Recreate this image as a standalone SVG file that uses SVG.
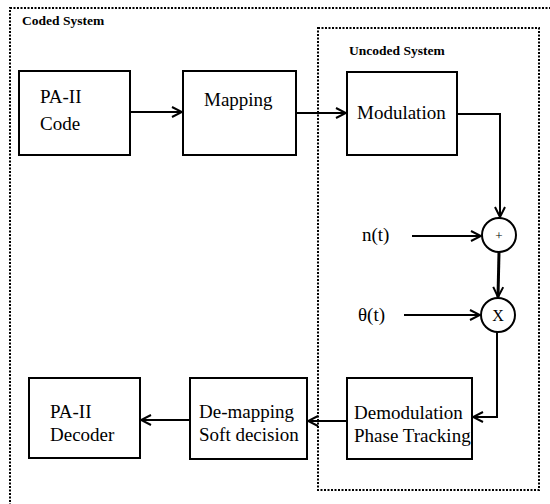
<svg xmlns="http://www.w3.org/2000/svg" width="550" height="504" viewBox="0 0 550 504">
<style>
.frame{fill:none;stroke:#000;stroke-width:2;stroke-dasharray:2 1.5}
.box{fill:#fff;stroke:#000;stroke-width:2}
.lbl{font-family:"Liberation Serif","Times New Roman",serif;font-size:19px;fill:#000}
.ttl{font-family:"Liberation Serif","Times New Roman",serif;font-size:13.5px;font-weight:bold;fill:#000}
.ln{fill:none;stroke:#000;stroke-width:2}
</style>
<defs>
<marker id="ah" viewBox="0 0 12 12" refX="11" refY="6" markerWidth="12" markerHeight="12" markerUnits="userSpaceOnUse" orient="auto">
<polyline points="1,1 11,6 1,11" fill="none" stroke="#000" stroke-width="2"/>
</marker>
</defs>
<rect width="550" height="504" fill="#fff"/>
<g id="coded-system">
<rect class="frame" x="10" y="8" width="560" height="520"/>
<text class="ttl" x="22" y="25">Coded System</text>
</g>
<g id="uncoded-system">
<rect class="frame" x="318" y="28" width="221" height="462"/>
<text class="ttl" x="349" y="55">Uncoded System</text>
</g>
<g id="pa-code">
<rect class="box" x="19" y="71" width="111" height="84"/>
<text class="lbl" x="40" y="103">PA-II</text>
<text class="lbl" x="40" y="130">Code</text>
</g>
<g id="mapping">
<rect class="box" x="183" y="71" width="113" height="84"/>
<text class="lbl" x="204" y="106">Mapping</text>
</g>
<g id="modulation">
<rect class="box" x="347" y="72" width="110" height="83"/>
<text class="lbl" x="357" y="119">Modulation</text>
</g>
<g id="adder">
<circle cx="499" cy="235" r="17" fill="#fff" stroke="#000" stroke-width="2"/>
<text x="499" y="240" text-anchor="middle" style="font-family:'Liberation Serif',serif;font-size:13px">+</text>
</g>
<g id="mixer">
<circle cx="498" cy="315" r="17" fill="#fff" stroke="#000" stroke-width="2"/>
<text x="498" y="321" text-anchor="middle" style="font-family:'Liberation Serif',serif;font-size:16px">X</text>
</g>
<g id="noise">
<text class="lbl" x="362" y="241">n(t)</text>
</g>
<g id="phase">
<text class="lbl" x="358" y="321">θ(t)</text>
</g>
<g id="demodulation">
<rect class="box" x="347" y="378" width="125" height="81"/>
<text class="lbl" x="354" y="419">Demodulation</text>
<text class="lbl" x="354" y="442">Phase Tracking</text>
</g>
<g id="demapping">
<rect class="box" x="190" y="378" width="117" height="81"/>
<text class="lbl" x="199" y="418">De-mapping</text>
<text class="lbl" x="199" y="441">Soft decision</text>
</g>
<g id="pa-decoder">
<rect class="box" x="29" y="378" width="111" height="80"/>
<text class="lbl" x="50" y="418">PA-II</text>
<text class="lbl" x="50" y="441">Decoder</text>
</g>
<g id="connectors">
<line class="ln" x1="130" y1="112" x2="182" y2="112" marker-end="url(#ah)"/>
<line class="ln" x1="296" y1="113" x2="346" y2="113" marker-end="url(#ah)"/>
<polyline class="ln" points="457,114 500,114 500,217" marker-end="url(#ah)"/>
<line class="ln" x1="412" y1="236" x2="481" y2="236" marker-end="url(#ah)"/>
<line x1="499" y1="252" x2="498" y2="297" fill="none" stroke="#000" stroke-width="3" marker-end="url(#ah)"/>
<line class="ln" x1="404" y1="315" x2="480" y2="315" marker-end="url(#ah)"/>
<polyline class="ln" points="497,332 497,417 473,417" marker-end="url(#ah)"/>
<line class="ln" x1="347" y1="421" x2="308" y2="421" marker-end="url(#ah)"/>
<line class="ln" x1="190" y1="420" x2="141" y2="420" marker-end="url(#ah)"/>
</g>
</svg>
